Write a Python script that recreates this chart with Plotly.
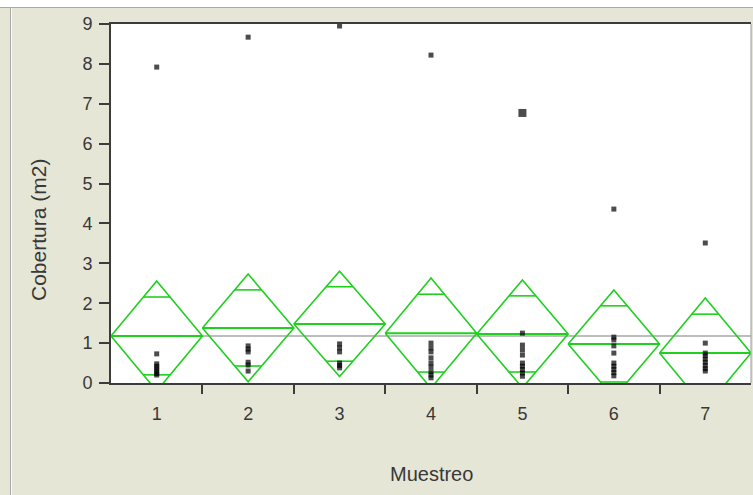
import math
import plotly.graph_objects as go

# Oneway analysis of Cobertura by Muestreo: raw observations + means diamonds
muestreo = [1, 2, 3, 4, 5, 6, 7]
tick_labels = ["1", "2", "3", "4", "5", "6", "7"]

cobertura = {
    1: [7.92, 0.73, 0.48, 0.42, 0.36, 0.30, 0.24, 0.20],
    2: [8.67, 0.93, 0.85, 0.78, 0.52, 0.45, 0.30],
    3: [8.95, 0.98, 0.88, 0.78, 0.50, 0.44, 0.38],
    4: [8.22, 1.00, 0.88, 0.78, 0.63, 0.50, 0.40, 0.28, 0.20, 0.13],
    5: [6.77, 1.25, 0.95, 0.83, 0.70, 0.50, 0.42, 0.34, 0.25, 0.17],
    6: [4.36, 1.15, 1.08, 0.93, 0.75, 0.50, 0.42, 0.34, 0.26, 0.18],
    7: [3.51, 1.00, 0.75, 0.68, 0.60, 0.52, 0.44, 0.36, 0.30],
}
# the 6.77 point of sampling 5 is several coincident observations
coincident = {5: 6.77}

group_means = [1.18, 1.38, 1.48, 1.25, 1.23, 0.98, 0.75]
ci_half = [1.38, 1.35, 1.32, 1.38, 1.35, 1.35, 1.38]
grand_mean = 1.18

W, H = 753, 495
L, R, T, B = 111, 2, 24, 112
PW, PH = W - L - R, H - T - B

GREEN = "#1fd01f"
AXIS = "#3c3c3c"
TEXT = "#383838"
BEIGE = "#e6e6d7"
FONT = "Liberation Sans, Arial, sans-serif"


def px(x):
    return (x - L) / PW


def py(y):
    return (H - B - y) / PH


fig = go.Figure()

# grand mean reference line
fig.add_trace(go.Scatter(
    x=[0.5, 7.5], y=[grand_mean, grand_mean], mode="lines",
    line=dict(color="#bdbdbd", width=2), hoverinfo="skip", showlegend=False))

half_w = 0.5
k = 1 / math.sqrt(2)
for g, m, c in zip(muestreo, group_means, ci_half):
    # diamond outline
    fig.add_trace(go.Scatter(
        x=[g - half_w, g, g + half_w, g, g - half_w],
        y=[m, m + c, m, m - c, m], mode="lines",
        line=dict(color=GREEN, width=1.6), hoverinfo="skip", showlegend=False))
    # mean line
    fig.add_trace(go.Scatter(
        x=[g - half_w, g + half_w], y=[m, m], mode="lines",
        line=dict(color=GREEN, width=2), hoverinfo="skip", showlegend=False))
    # overlap marks at mean +/- ci/sqrt(2)
    ow = half_w * (1 - k)
    for s in (1, -1):
        fig.add_trace(go.Scatter(
            x=[g - ow, g + ow], y=[m + s * c * k] * 2, mode="lines",
            line=dict(color=GREEN, width=1.6), hoverinfo="skip", showlegend=False))

# observations
for g in muestreo:
    vals = cobertura[g]
    sizes = [8 if coincident.get(g) == v else 5 for v in vals]
    fig.add_trace(go.Scatter(
        x=[g] * len(vals), y=vals, mode="markers",
        marker=dict(symbol="square", size=sizes, color="black", line=dict(width=0)),
        showlegend=False))

shapes = [
    # white strip along the top, light frame edges
    dict(type="rect", xref="paper", yref="paper", x0=px(0), x1=px(W), y0=py(7), y1=py(0),
         fillcolor="white", line=dict(width=0), layer="below"),
    dict(type="line", xref="paper", yref="paper", x0=px(0), x1=px(W), y0=py(7.5), y1=py(7.5),
         line=dict(color="#a8a8a8", width=1)),
    dict(type="line", xref="paper", yref="paper", x0=px(10.5), x1=px(10.5), y0=py(H), y1=py(7.5),
         line=dict(color="#a8a8a8", width=1)),
    dict(type="line", xref="paper", yref="paper", x0=px(11.5), x1=px(11.5), y0=py(H), y1=py(8),
         line=dict(color="#fafafa", width=1)),
    # right border of the plot frame
    dict(type="line", xref="paper", yref="paper", x0=1, x1=1, y0=0, y1=1,
         line=dict(color="#9a9a9a", width=1)),
]

annotations = [
    dict(text="Muestreo", xref="paper", yref="paper", x=px(431), y=py(474),
         showarrow=False, font=dict(family=FONT, size=20, color=TEXT),
         xanchor="center", yanchor="middle"),
    dict(text="Cobertura (m2)", xref="paper", yref="paper", x=px(38), y=py(230),
         showarrow=False, textangle=-90, font=dict(family=FONT, size=21, color=TEXT),
         xanchor="center", yanchor="middle"),
]

fig.update_layout(
    width=W, height=H,
    margin=dict(l=L, r=R, t=T, b=B, pad=0),
    paper_bgcolor=BEIGE, plot_bgcolor="white",
    showlegend=False,
    shapes=shapes, annotations=annotations,
    font=dict(family=FONT, size=18, color=TEXT),
    xaxis=dict(
        range=[0.5, 7.5], tickmode="array", tickvals=muestreo, ticktext=tick_labels,
        ticks="", showgrid=False, zeroline=False,
        showline=True, linecolor=AXIS, linewidth=2, mirror=True,
        ticklabelstandoff=13,
        minor=dict(tickvals=[1.5, 2.5, 3.5, 4.5, 5.5, 6.5], ticks="outside",
                   ticklen=9, tickwidth=2, tickcolor=AXIS, showgrid=False),
    ),
    yaxis=dict(
        range=[0, 9], tickmode="array", tickvals=list(range(10)),
        ticks="outside", ticklen=10, tickwidth=2, tickcolor=AXIS,
        showgrid=False, zeroline=False,
        showline=True, linecolor=AXIS, linewidth=2, mirror=False,
        ticklabelstandoff=3,
    ),
)

fig.write_html("out.html")
